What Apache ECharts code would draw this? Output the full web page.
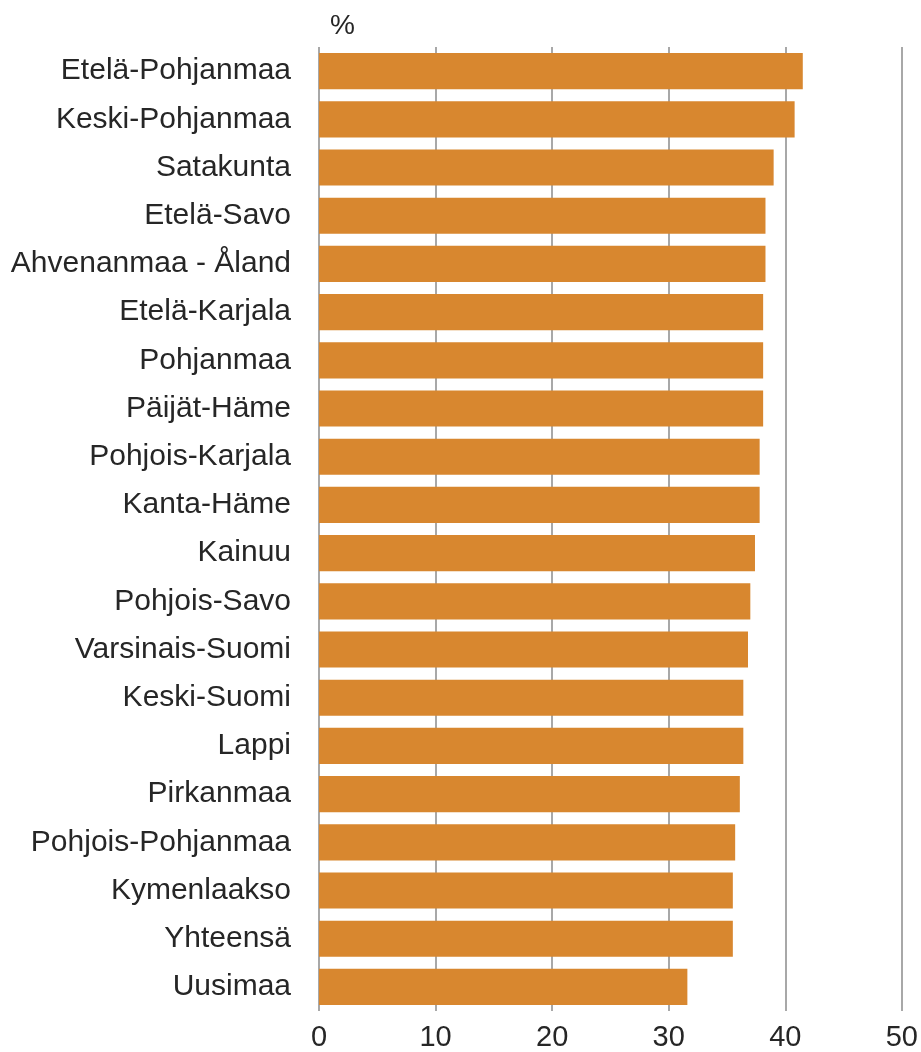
<!DOCTYPE html>
<html>
<head>
<meta charset="utf-8">
<style>
  html, body { margin: 0; padding: 0; background: #ffffff; }
  #chart { width: 921px; height: 1052px; }
</style>
<script src="https://cdn.jsdelivr.net/npm/echarts@6/dist/echarts.min.js"></script>
</head>
<body>
<div id="chart"></div>
<script>
const categories = [
  "Etelä-Pohjanmaa", "Keski-Pohjanmaa", "Satakunta", "Etelä-Savo",
  "Ahvenanmaa - Åland", "Etelä-Karjala", "Pohjanmaa", "Päijät-Häme",
  "Pohjois-Karjala", "Kanta-Häme", "Kainuu", "Pohjois-Savo",
  "Varsinais-Suomi", "Keski-Suomi", "Lappi", "Pirkanmaa",
  "Pohjois-Pohjanmaa", "Kymenlaakso", "Yhteensä", "Uusimaa"
];
const values = [
  41.5, 40.8, 39.0, 38.3,
  38.3, 38.1, 38.1, 38.1,
  37.8, 37.8, 37.4, 37.0,
  36.8, 36.4, 36.4, 36.1,
  35.7, 35.5, 35.5, 31.6
];
const unitLabel = "%";
const xTicks = { min: 0, max: 50, interval: 10 };

const FONT = "'Liberation Sans', Arial, Helvetica, sans-serif";
const chart = echarts.init(document.getElementById('chart'), null, { renderer: 'canvas' });
chart.setOption({
  backgroundColor: '#ffffff',
  animation: false,
  title: {
    text: unitLabel,
    left: 325,
    top: 7,
    textStyle: { fontFamily: FONT, fontSize: 28, fontWeight: 'normal', color: '#262626' }
  },
  grid: { left: 319, right: 18, top: 47, bottom: 41, containLabel: false },
  xAxis: {
    type: 'value',
    min: xTicks.min, max: xTicks.max, interval: xTicks.interval,
    axisLine: { show: false },
    axisTick: { show: false },
    axisLabel: { fontFamily: FONT, fontSize: 29, color: '#262626', margin: 12 },
    splitLine: { show: true, lineStyle: { color: '#a8a8a8', width: 2 } }
  },
  yAxis: {
    type: 'category',
    inverse: true,
    data: categories,
    axisLine: { show: false },
    axisTick: { show: false },
    axisLabel: { fontFamily: FONT, fontSize: 30, color: '#262626', margin: 28 },
    splitLine: { show: false }
  },
  series: [{
    type: 'bar',
    data: values,
    barCategoryGap: '25%',
    itemStyle: { color: '#d8872f' },
    silent: true
  }]
});
</script>
</body>
</html>
